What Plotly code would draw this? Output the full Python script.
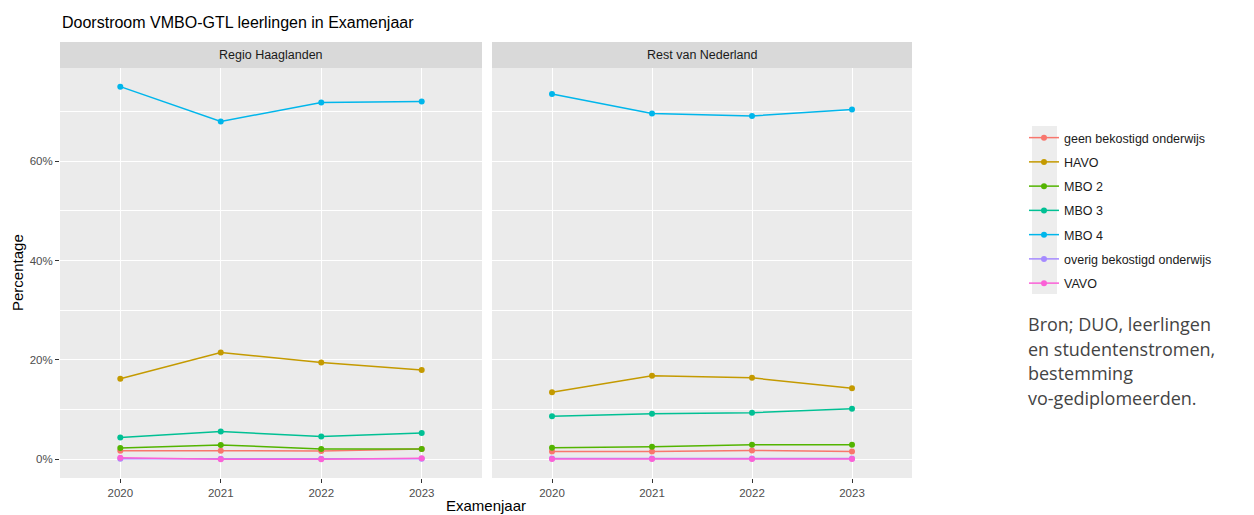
import plotly.graph_objects as go

years = [2020, 2021, 2022, 2023]
panels = ["Regio Haaglanden", "Rest van Nederland"]
categories = ["geen bekostigd onderwijs", "HAVO", "MBO 2", "MBO 3", "MBO 4",
              "overig bekostigd onderwijs", "VAVO"]
colors = ["#F8766D", "#C49A00", "#53B400", "#00C094", "#00B6EB", "#A58AFF", "#FB61D7"]

haaglanden_geen = [1.75, 1.75, 1.7, 2.1]
haaglanden_havo = [16.2, 21.5, 19.5, 18.0]
haaglanden_mbo2 = [2.3, 2.9, 2.1, 2.1]
haaglanden_mbo3 = [4.4, 5.6, 4.6, 5.3]
haaglanden_mbo4 = [75.0, 68.0, 71.8, 72.0]
haaglanden_overig = [0.1, 0.1, 0.1, 0.1]
haaglanden_vavo = [0.3, 0.0, 0.0, 0.2]

rest_geen = [1.6, 1.6, 1.8, 1.6]
rest_havo = [13.5, 16.8, 16.4, 14.3]
rest_mbo2 = [2.35, 2.55, 2.95, 2.95]
rest_mbo3 = [8.7, 9.2, 9.4, 10.2]
rest_mbo4 = [73.5, 69.6, 69.1, 70.4]
rest_overig = [0.15, 0.15, 0.15, 0.15]
rest_vavo = [0.05, 0.05, 0.05, 0.05]

y_ticks = [0, 20, 40, 60]

data = {
    0: [haaglanden_geen, haaglanden_havo, haaglanden_mbo2, haaglanden_mbo3,
        haaglanden_mbo4, haaglanden_overig, haaglanden_vavo],
    1: [rest_geen, rest_havo, rest_mbo2, rest_mbo3, rest_mbo4, rest_overig, rest_vavo],
}

W, H = 1254, 515
def px(x):
    return x / W
def py(y):
    return 1 - y / H

fig = go.Figure()
for p in (0, 1):
    xa = "x" if p == 0 else "x2"
    ya = "y" if p == 0 else "y2"
    for i, cat in enumerate(categories):
        fig.add_trace(go.Scatter(
            x=years, y=data[p][i], mode="lines+markers", name=cat,
            line=dict(color=colors[i], width=1.5),
            marker=dict(color=colors[i], size=6),
            legendgroup=cat, showlegend=(p == 0),
            xaxis=xa, yaxis=ya,
        ))

panel_x = [(60, 482), (492, 912)]
plot_top, plot_bottom = 68, 478
strip_top = 42

axis_common = dict(
    showline=False, zeroline=False, ticks="outside", ticklen=4, tickcolor="#333333",
    tickfont=dict(family="Liberation Sans, Arial", size=11.5, color="#4D4D4D"),
    gridcolor="#FFFFFF", gridwidth=1.1,
)

xcommon = dict(axis_common, range=[2019.4, 2023.6], tickvals=years,
               ticktext=[str(y) for y in years])
ycommon = dict(axis_common, range=[-3.75, 78.75], tickvals=y_ticks,
               ticktext=[f"{v}%" for v in y_ticks],
               minor=dict(tickvals=[10, 30, 50, 70], showgrid=True,
                          gridcolor="#FFFFFF", gridwidth=0.5, ticks=""))

ydom = [py(plot_bottom), py(plot_top)]
fig.update_layout(
    xaxis=dict(xcommon, domain=[px(panel_x[0][0]), px(panel_x[0][1])], anchor="y"),
    yaxis=dict(ycommon, domain=ydom, anchor="x"),
    xaxis2=dict(xcommon, domain=[px(panel_x[1][0]), px(panel_x[1][1])], anchor="y2"),
    yaxis2=dict(ycommon, domain=ydom, anchor="x2", showticklabels=False, ticks=""),
)

shapes = []
annotations = []
for p, name in enumerate(panels):
    x0, x1 = panel_x[p]
    shapes.append(dict(type="rect", xref="paper", yref="paper",
                       x0=px(x0), x1=px(x1), y0=py(plot_top), y1=py(strip_top),
                       fillcolor="#D9D9D9", line=dict(width=0), layer="below"))
    shapes.append(dict(type="rect", xref="paper", yref="paper",
                       x0=px(x0), x1=px(x1), y0=py(plot_bottom), y1=py(plot_top),
                       fillcolor="#EBEBEB", line=dict(width=0), layer="below"))
    annotations.append(dict(text=name, xref="paper", yref="paper",
                            x=px((x0 + x1) / 2), y=py((strip_top + plot_top) / 2),
                            xanchor="center", yanchor="middle", showarrow=False,
                            font=dict(family="Liberation Sans, Arial", size=12.5, color="#1A1A1A")))

# legend key background
shapes.append(dict(type="rect", xref="paper", yref="paper",
                   x0=px(1032), x1=px(1057), y0=py(294), y1=py(126),
                   fillcolor="#EDEDED", line=dict(width=0), layer="below"))

annotations.append(dict(text="Doorstroom VMBO-GTL leerlingen in Examenjaar",
                        xref="paper", yref="paper", x=px(60), y=py(22),
                        xanchor="left", yanchor="middle", showarrow=False,
                        font=dict(family="Liberation Sans, Arial", size=16, color="#000000")))
annotations.append(dict(text="Examenjaar", xref="paper", yref="paper",
                        x=px(486), y=py(505), xanchor="center", yanchor="middle",
                        showarrow=False,
                        font=dict(family="Liberation Sans, Arial", size=15, color="#000000")))
annotations.append(dict(text="Percentage", xref="paper", yref="paper",
                        x=px(17), y=py(273), xanchor="center", yanchor="middle",
                        textangle=-90, showarrow=False,
                        font=dict(family="Liberation Sans, Arial", size=15, color="#000000")))

source_lines = ["Bron; DUO, leerlingen", "en studentenstromen,", "bestemming",
                "vo-gediplomeerden."]
for k, line in enumerate(source_lines):
    annotations.append(dict(text=line, xref="paper", yref="paper",
                            x=px(1026), y=py(324 + k * 24.5), xanchor="left",
                            yanchor="middle", showarrow=False,
                            font=dict(family="Open Sans", size=18, color="#444444")))

fig.update_layout(
    width=W, height=H, margin=dict(l=0, r=0, t=0, b=0),
    paper_bgcolor="#FFFFFF", plot_bgcolor="rgba(0,0,0,0)",
    shapes=shapes, annotations=annotations,
    legend=dict(x=px(1024), y=py(123), xanchor="left", yanchor="top",
                font=dict(family="Liberation Sans, Arial", size=12.5, color="#1A1A1A"),
                tracegroupgap=5, itemwidth=30, bgcolor="rgba(0,0,0,0)"),
)

fig.write_html("out.html", post_script="document.body.style.margin='0px';",
               config={"displayModeBar": False})
